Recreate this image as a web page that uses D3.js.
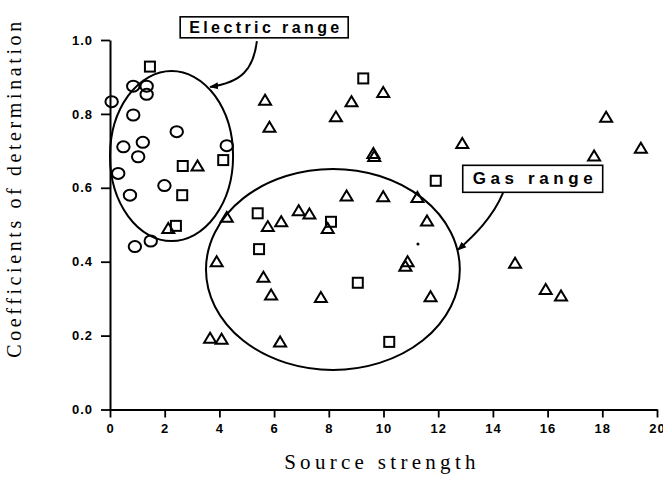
<!DOCTYPE html>
<html>
<head>
<meta charset="utf-8">
<script src="https://cdn.jsdelivr.net/npm/d3@7"></script>
<style>
  body { margin: 0; background: #fff; }
  svg { display: block; }
</style>
</head>
<body>
<svg id="chart" width="663" height="478"></svg>
<script>
"use strict";

// electric sources (circles)
var circleX = [0.06, 0.85, 1.34, 1.34, 0.85, 2.44, 1.20, 0.49, 1.03, 4.27, 0.30, 0.73, 1.99, 0.91, 1.49];
var circleY = [0.833, 0.875, 0.875, 0.853, 0.797, 0.752, 0.723, 0.711, 0.684, 0.714, 0.639, 0.580, 0.606, 0.441, 0.456];

// squares
var squareX = [1.46, 2.66, 4.14, 2.64, 2.41, 5.40, 5.45, 8.08, 9.06, 9.26, 11.91, 10.21];
var squareY = [0.928, 0.659, 0.675, 0.580, 0.497, 0.531, 0.434, 0.508, 0.343, 0.896, 0.619, 0.183];

// gas sources (triangles)
var triX = [5.67, 5.83, 3.20, 2.13, 4.27, 3.90, 5.77, 6.26, 6.90, 5.61, 5.89, 9.63, 9.66, 8.65, 7.29, 7.96,
  9.99, 8.83, 8.26, 12.88, 9.99, 11.24, 11.59, 18.14, 19.41, 17.70, 14.81, 15.93, 16.49, 10.88, 10.80,
  7.71, 11.72, 3.66, 4.08, 6.22];
var triY = [0.837, 0.764, 0.659, 0.490, 0.520, 0.400, 0.495, 0.508, 0.538, 0.358, 0.310, 0.693, 0.685, 0.578, 0.529, 0.490,
  0.858, 0.833, 0.792, 0.720, 0.576, 0.574, 0.510, 0.791, 0.707, 0.686, 0.396, 0.325, 0.307, 0.400, 0.388,
  0.303, 0.305, 0.193, 0.190, 0.183];

var xTicks = [0, 2, 4, 6, 8, 10, 12, 14, 16, 18, 20];
var yTicks = [0.0, 0.2, 0.4, 0.6, 0.8, 1.0];

// ellipses: [cx, cy, rx, ry] in data units
var electricRange = [2.25, 0.686, 2.25, 0.23];
var gasRange = [8.15, 0.379, 4.64, 0.272];

var svg = d3.select("#chart");
var x = d3.scaleLinear().domain([0, 20]).range([110, 657]);
var y = d3.scaleLinear().domain([0, 1]).range([409.5, 40]);

// axes
var xAxis = svg.append("g").attr("transform", "translate(0," + y(0) + ")");
xAxis.call(d3.axisBottom(x).tickValues(d3.range(0, 21, 1)).tickFormat("").tickSize(4).tickSizeOuter(0));
xAxis.call(d3.axisBottom(x).tickValues(xTicks).tickFormat(d3.format("d")).tickSize(8).tickPadding(6).tickSizeOuter(0));
xAxis.selectAll("path").attr("stroke-width", 2);
xAxis.selectAll("line").attr("stroke-width", 1.8);
xAxis.selectAll("text")
  .style("font-family", "Liberation Sans, Arial, sans-serif")
  .style("font-weight", "bold")
  .style("font-size", "13px")
  .style("letter-spacing", "1px");

var yAxis = svg.append("g").attr("transform", "translate(" + x(0) + ",0)");
yAxis.call(d3.axisLeft(y).tickValues(d3.range(0, 1.01, 0.1)).tickFormat("").tickSize(5).tickSizeOuter(0));
yAxis.call(d3.axisLeft(y).tickValues(yTicks).tickFormat(d3.format(".1f")).tickSize(9).tickPadding(8).tickSizeOuter(0));
yAxis.selectAll("path").attr("stroke-width", 2);
yAxis.selectAll("line").attr("stroke-width", 1.8);
yAxis.selectAll("text")
  .style("font-family", "Liberation Sans, Arial, sans-serif")
  .style("font-weight", "bold")
  .style("font-size", "13px")
  .style("letter-spacing", "1px");

// axis titles
svg.append("text")
  .text("Source strength")
  .attr("x", 382).attr("y", 469)
  .attr("text-anchor", "middle")
  .style("font-family", "Liberation Serif, Times New Roman, serif")
  .style("font-size", "21px")
  .style("letter-spacing", "4.3px");

svg.append("text")
  .text("Coefficients of determination")
  .attr("transform", "translate(21,188) rotate(-90)")
  .attr("text-anchor", "middle")
  .style("font-family", "Liberation Serif, Times New Roman, serif")
  .style("font-size", "20px")
  .style("letter-spacing", "3.6px");

// range ellipses
[electricRange, gasRange].forEach(function (e) {
  svg.append("ellipse")
    .attr("cx", x(e[0])).attr("cy", y(e[1]))
    .attr("rx", x(e[2]) - x(0)).attr("ry", y(0) - y(e[3]))
    .style("fill", "none").style("stroke", "#000").style("stroke-width", 2);
});

// markers
var pts = svg.append("g");
pts.selectAll("ellipse.pt").data(circleX).enter().append("ellipse")
  .attr("class", "pt")
  .attr("cx", function (d) { return x(d); })
  .attr("cy", function (d, i) { return y(circleY[i]); })
  .attr("rx", 6.2).attr("ry", 5.5)
  .style("fill", "none").style("stroke", "#000").style("stroke-width", 2);

pts.selectAll("rect.pt").data(squareX).enter().append("rect")
  .attr("class", "pt")
  .attr("x", function (d) { return x(d) - 5; })
  .attr("y", function (d, i) { return y(squareY[i]) - 5; })
  .attr("width", 10).attr("height", 10)
  .style("fill", "none").style("stroke", "#000").style("stroke-width", 2);

pts.selectAll("path.tri").data(triX).enter().append("path")
  .attr("class", "tri")
  .attr("d", function (d, i) {
    var cx = x(d), cy = y(triY[i]);
    return "M" + (cx - 6) + "," + (cy + 4.5) + "L" + cx + "," + (cy - 5.5) + "L" + (cx + 6) + "," + (cy + 4.5) + "Z";
  })
  .style("fill", "none").style("stroke", "#000").style("stroke-width", 2).style("stroke-linejoin", "miter");

// annotation boxes with arrows
svg.append("defs").append("marker")
  .attr("id", "head")
  .attr("viewBox", "0 0 10 10")
  .attr("refX", 9).attr("refY", 5)
  .attr("markerWidth", 9).attr("markerHeight", 9)
  .attr("markerUnits", "userSpaceOnUse")
  .attr("orient", "auto")
  .append("path").attr("d", "M0,1L10,5L0,9Z").style("fill", "#000");

function labelBox(label, cx, cy, size, spacing, padX, padY) {
  var g = svg.append("g");
  var t = g.append("text")
    .text(label)
    .attr("x", x(cx)).attr("y", y(cy))
    .attr("text-anchor", "middle")
    .attr("dy", "0.36em")
    .style("font-family", "Liberation Sans, Arial, sans-serif")
    .style("font-weight", "bold")
    .style("font-size", size + "px")
    .style("letter-spacing", spacing + "px");
  var b = t.node().getBBox();
  g.insert("rect", "text")
    .attr("x", b.x - padX).attr("y", b.y - padY)
    .attr("width", b.width + 2 * padX - spacing).attr("height", b.height + 2 * padY)
    .style("fill", "#fff").style("stroke", "#000").style("stroke-width", 1.6);
}

function arrow(p) {
  svg.append("path")
    .attr("d", "M" + x(p[0]) + "," + y(p[1]) +
      "C" + x(p[2]) + "," + y(p[3]) + " " + x(p[4]) + "," + y(p[5]) + " " + x(p[6]) + "," + y(p[7]))
    .style("fill", "none").style("stroke", "#000").style("stroke-width", 2)
    .attr("marker-end", "url(#head)");
}

arrow([5.37, 0.997, 5.25, 0.92, 4.8, 0.885, 3.66, 0.873]);
arrow([14.37, 0.586, 14.0, 0.52, 13.3, 0.47, 12.72, 0.432]);

labelBox("Electric range", 5.70, 1.035, 16, 3.4, 9, 2);
labelBox("Gas range", 15.54, 0.626, 17, 4.6, 10, 4);

// scan speck inside the gas ellipse
svg.append("circle").attr("cx", x(11.26)).attr("cy", y(0.448)).attr("r", 1.5).style("fill", "#000");
</script>
</body>
</html>
